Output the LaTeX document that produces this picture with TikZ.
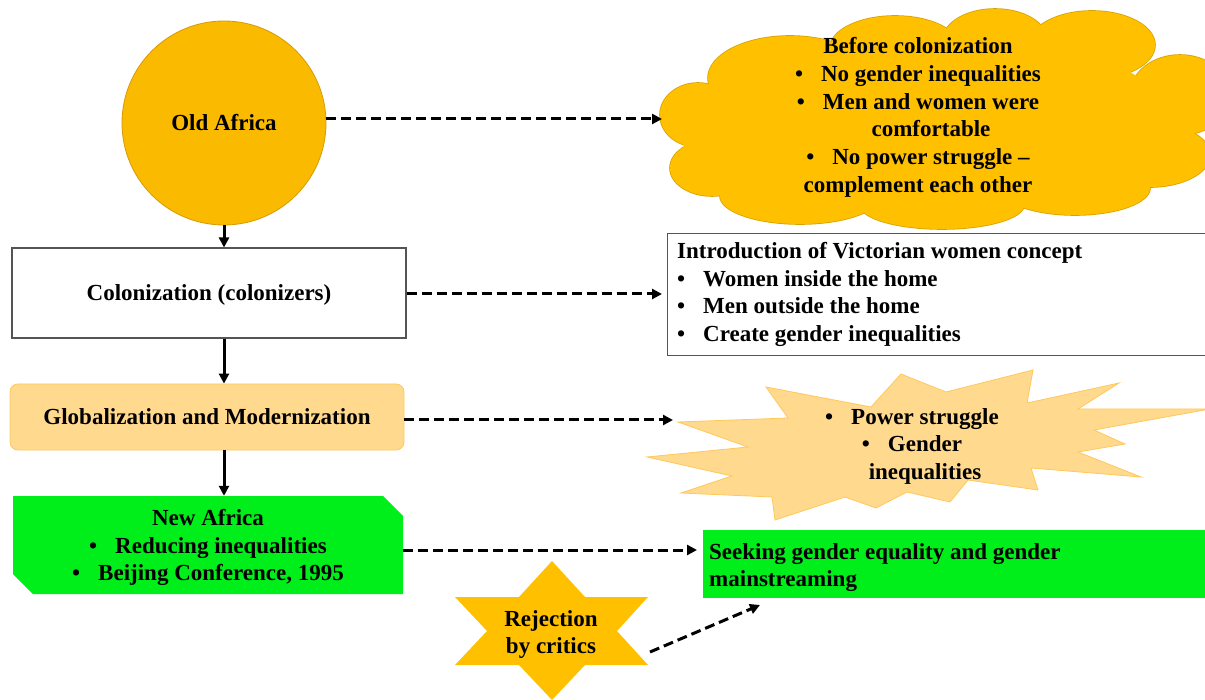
\documentclass[tikz,border=0pt]{standalone}
\usepackage{fontspec}
\setmainfont{Liberation Serif}
\usetikzlibrary{arrows.meta,shapes.misc}
\definecolor{gold}{HTML}{FFC000}
\definecolor{goldd}{HTML}{D9A200}
\definecolor{circf}{HTML}{F9BA00}
\definecolor{circd}{HTML}{D89A00}
\definecolor{lightor}{HTML}{FFD98E}
\definecolor{lightord}{HTML}{FFC85A}
\definecolor{brightgreen}{HTML}{00EE1A}
\definecolor{boxgray}{HTML}{555555}
\newcommand{\bulitem}{\makebox[26pt][l]{\textbullet}}
\tikzset{
  solidarrow/.style={line width=3pt,-{Triangle[length=10pt,width=10pt]}},
  dasharrow/.style={line width=3pt,dash pattern=on 10pt off 5pt,-{Triangle[length=10pt,width=10pt]}},
  txt/.style={inner sep=0pt,align=center,text depth=0pt},
}
\begin{document}
\begin{tikzpicture}[x=1pt,y=-1pt,font=\bfseries\fontsize{23}{27.7}\selectfont]
\useasboundingbox (0,0) rectangle (1205,700);

% left column
\node[circle,fill=circf,draw=circd,line width=0.8pt,minimum size=204pt,inner sep=0pt] (old) at (224,123) {Old Africa};
\node[draw=boxgray,line width=1.1pt,fill=white,minimum width=394pt,minimum height=90pt,text depth=0pt] (col) at (209,293) {Colonization (colonizers)};
\node[rounded corners=8pt,fill=lightor,draw=lightord,line width=0.8pt,minimum width=394pt,minimum height=66pt] (glob) at (207,417) {Globalization and Modernization};
\node[chamfered rectangle,chamfered rectangle corners={north east,south west},chamfered rectangle xsep=10pt,chamfered rectangle ysep=10pt,fill=brightgreen,minimum width=390pt,minimum height=98pt,align=center,inner sep=0pt,text depth=0pt] (new) at (208,545) {New Africa\\\bulitem Reducing inequalities\\\bulitem Beijing Conference, 1995};

\draw[solidarrow] (old.south) -- (old.south |- col.north);
\draw[solidarrow] (old.south |- col.south) -- (old.south |- glob.north);
\draw[solidarrow] (old.south |- glob.south) -- (old.south |- new.north);

% cloud: union of lobes, outlines drawn first then covered by fills
\foreach \cx/\cy/\rx/\ry in {698/115/38/32, 712/168/42/28, 800/196/80/28, 942/205/82/24, 1075/188/75/27, 1150/155/60/32, 1180/95/50/40, 1092/45/63/34, 995/40/52/31, 895/48/65/32, 790/78/82/42}
  \draw[draw=goldd,line width=1.6pt] (\cx,\cy) ellipse [x radius=\rx pt, y radius=\ry pt];
\foreach \cx/\cy/\rx/\ry in {698/115/38/32, 712/168/42/28, 800/196/80/28, 942/205/82/24, 1075/188/75/27, 1150/155/60/32, 1180/95/50/40, 1092/45/63/34, 995/40/52/31, 895/48/65/32, 790/78/82/42, 935/118/235/82, 765/160/45/28, 720/135/40/25}
  \fill[gold] (\cx,\cy) ellipse [x radius=\rx pt, y radius=\ry pt];
\node[txt] (cloudtxt) at (918,115) {Before colonization\\\bulitem No gender inequalities\\\bulitem Men and women were\\\hspace{26pt}comfortable\\\bulitem No power struggle --\\complement each other};
\coordinate (cloudin) at (662,119);
\draw[dasharrow] (old.east |- cloudin) -- (cloudin);

% Victorian box
\node[draw=boxgray,line width=1.1pt,fill=white,anchor=north west,minimum width=560pt,minimum height=122pt,inner sep=0pt] (vic) at (667,233) {};
\node[inner sep=0pt,align=left,anchor=west,text depth=0pt] (victxt) at (677,292) {Introduction of Victorian women concept\\\bulitem Women inside the home\\\bulitem Men outside the home\\\bulitem Create gender inequalities};
\coordinate (vicin) at (662,294);
\draw[dasharrow] (col.east |- vicin) -- (vicin);

% starburst
\draw[fill=lightor,draw=lightord,line width=0.8pt] (678,422) -- (788,418) -- (766,387) -- (871,407) -- (901,374) -- (946,392) -- (1033,370) -- (1027,403) -- (1119,383) -- (1078,409) -- (1210,409) -- (1094,430) -- (1125,444) -- (1078,452) -- (1141,477) -- (1031,468) -- (1038,490) -- (968,480) -- (950,502) -- (907,492) -- (876,508) -- (845,497) -- (775,520) -- (772,497) -- (681,493) -- (732,476) -- (647,457) -- (748,447) -- cycle;
\node[txt] (bursttxt) at (912,444) {\bulitem Power struggle\\\bulitem Gender\\\hspace{26pt}inequalities};
\coordinate (burstin) at (673,420);
\draw[dasharrow] (glob.east |- burstin) -- (burstin);

% seeking box
\node[fill=brightgreen,anchor=north west,minimum width=520pt,minimum height=68pt,inner sep=0pt] (seek) at (703,530) {};
\node[inner sep=0pt,align=left,anchor=west,text depth=0pt] (seektxt) at (709,565) {Seeking gender equality and gender\\mainstreaming};
\coordinate (seekin) at (697,550);
\draw[dasharrow] (new.east |- seekin) -- (seekin);

% rejection star
\draw[fill=gold,draw=none] (552,561) -- (585,597) -- (648,597) -- (617,631) -- (648,665) -- (585,665) -- (552,700) -- (519,665) -- (455,665) -- (487,631) -- (455,597) -- (519,597) -- cycle;
\node[txt] (rej) at (551,632) {Rejection\\by critics};
\coordinate (rejout) at (650,652);
\coordinate (seekbot) at (760,605);
\draw[dasharrow] (rejout) -- (seekbot);
\end{tikzpicture}
\end{document}
